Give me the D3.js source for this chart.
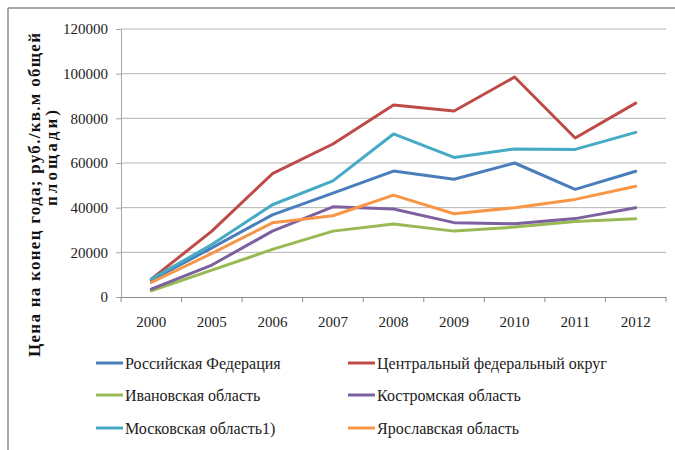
<!DOCTYPE html>
<html><head><meta charset="utf-8">
<script src="https://cdn.jsdelivr.net/npm/d3@7"></script>
</head><body style="margin:0">
<svg id="c" width="675" height="450"></svg>
<script>
const years = ["2000","2005","2006","2007","2008","2009","2010","2011","2012"];
const seriesNames = ["Российская Федерация","Центральный федеральный округ","Ивановская область","Костромская область","Московская область1)","Ярославская область"];
const rf   = [7500, 22000, 36800, 46500, 56400, 52700, 60000, 48200, 56300];
const cfo  = [8000, 29500, 55200, 68500, 86000, 83300, 98500, 71200, 86800];
const ivan = [2800, 12000, 21300, 29500, 32700, 29500, 31300, 33800, 35000];
const kost = [3500, 14300, 29500, 40400, 39400, 33300, 32800, 35100, 40000];
const mosc = [8000, 23500, 41300, 52000, 73000, 62500, 66300, 66100, 73700];
const yaro = [6500, 19500, 33200, 36400, 45600, 37300, 40000, 43700, 49600];
const yTicks = [0, 20000, 40000, 60000, 80000, 100000, 120000];
const colors = ["#4a7ebb","#be4b48","#98b954","#7d60a0","#46aac5","#f79646"];
const allSeries = [rf, cfo, ivan, kost, mosc, yaro];

const FAM = '"Times New Roman"';
const svg = d3.select("#c");
const L = 121, R = 666, T = 29, B = 297;
const x = d3.scaleBand().domain(years).range([L, R]).padding(0);
const y = d3.scaleLinear().domain([0, 120000]).range([B, T]);

function serif(sel, size, bold) {
  sel.attr("font-family", "Times New Roman").style("font-family", FAM).style("font-size", size + "px");
  if (bold) sel.style("font-weight", "bold");
  return sel;
}

// frame
svg.append("line").attr("x1",8).attr("y1",8).attr("x2",675).attr("y2",8).attr("stroke","#8c8c8c").attr("stroke-width",1.5);
svg.append("line").attr("x1",8).attr("y1",8).attr("x2",8).attr("y2",450).attr("stroke","#8c8c8c").attr("stroke-width",1.5);

// gridlines
svg.append("g").selectAll("line").data(yTicks.filter(d=>d>0)).join("line")
  .attr("x1",L).attr("x2",R).attr("y1",d=>y(d)).attr("y2",d=>y(d))
  .attr("stroke","#b3b3b3").attr("stroke-width",1);

// y axis
const yAxis = svg.append("g").attr("transform",`translate(${L},0)`)
  .call(d3.axisLeft(y).tickValues(yTicks).tickSize(5).tickPadding(8).tickFormat(d3.format("d")));
yAxis.attr("font-family", null).attr("font-size", null);
yAxis.select(".domain").attr("stroke","#a6a6a6");
yAxis.selectAll(".tick line").attr("stroke","#a6a6a6");
serif(yAxis.selectAll("text"), 15).attr("fill","#222");

// x axis
const xAxis = svg.append("g").attr("transform",`translate(0,${B})`)
  .call(d3.axisBottom(x).tickSize(0).tickPadding(19));
xAxis.attr("font-family", null).attr("font-size", null);
xAxis.select(".domain").attr("stroke","#8c8c8c");
serif(xAxis.selectAll("text"), 15).attr("fill","#222");
// category boundary ticks
const bounds = years.map(d=>x(d)).concat([R]);
svg.append("g").selectAll("line").data(bounds).join("line")
  .attr("x1",d=>d).attr("x2",d=>d).attr("y1",B).attr("y2",B+5)
  .attr("stroke","#8c8c8c");

// lines
const line = d3.line().x((d,i)=>x(years[i]) + x.bandwidth()/2).y(d=>y(d));
svg.append("g").selectAll("path").data(allSeries).join("path")
  .attr("d", line).attr("fill","none")
  .attr("stroke",(d,i)=>colors[i]).attr("stroke-width",3)
  .attr("stroke-linejoin","round").attr("stroke-linecap","round");

// y title
const t1 = svg.append("text").attr("transform","translate(40,195) rotate(-90)").attr("text-anchor","middle")
  .attr("fill","#111").attr("textLength",324).attr("lengthAdjust","spacing")
  .text("Цена на конец года; руб./кв.м  общей");
serif(t1, 17, true);
const t2 = svg.append("text").attr("transform","translate(57,158) rotate(-90)").attr("text-anchor","middle")
  .attr("fill","#111").attr("textLength",96).attr("lengthAdjust","spacing")
  .text("площади)");
serif(t2, 17, true);

// legend
const legPos = [[96,363],[348,363],[96,395],[348,395],[96,428],[348,428]];
const lg = svg.append("g").selectAll("g").data(seriesNames).join("g")
  .attr("transform",(d,i)=>`translate(${legPos[i][0]},${legPos[i][1]})`);
lg.append("line").attr("x1",0).attr("x2",27).attr("y1",0).attr("y2",0)
  .attr("stroke",(d,i)=>colors[i]).attr("stroke-width",3);
serif(lg.append("text").attr("x",29).attr("y",5.5).attr("fill","#222").text(d=>d), 16);
</script>
</body></html>
